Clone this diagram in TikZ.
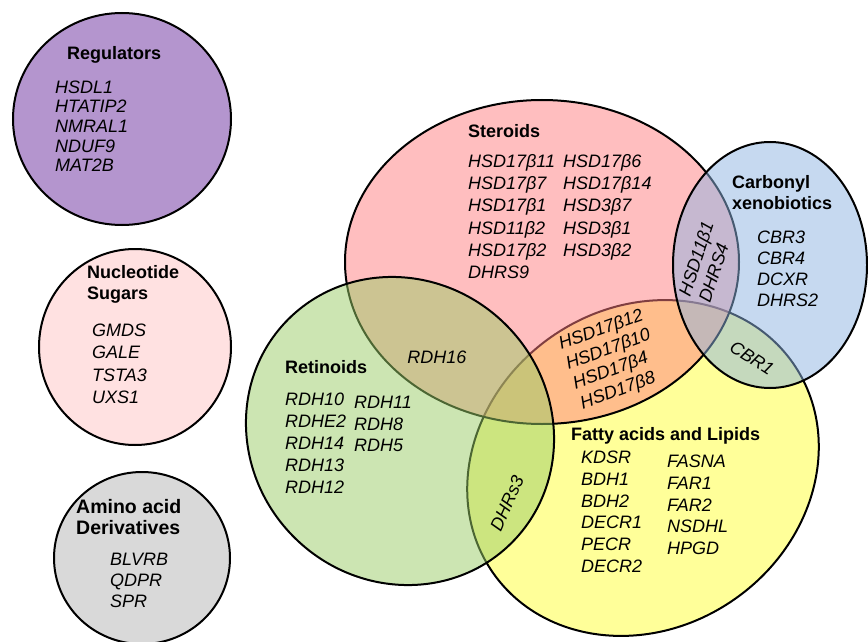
\documentclass[tikz,border=0pt]{standalone}
\usepackage{fontspec}
\setmainfont{Liberation Sans}
\usetikzlibrary{positioning}
\definecolor{regpurple}{RGB}{180,149,206}
\definecolor{nucpink}{RGB}{255,225,225}
\definecolor{aminogrey}{RGB}{217,217,217}
\definecolor{steroidred}{RGB}{255,125,128}
\definecolor{lipidyellow}{RGB}{255,255,0}
\definecolor{retinoidgreen}{RGB}{153,204,102}
\definecolor{carbonylblue}{RGB}{141,180,226}

\begin{document}
\begin{tikzpicture}[x=1pt,y=-1pt,
    setline/.style={draw=black,line width=2pt},
    ttl/.style={anchor=west,inner sep=0pt,text height=13pt,text depth=0pt,font=\fontsize{18}{20}\selectfont\bfseries},
    bigttl/.style={ttl,font=\fontsize{19.5}{21}\selectfont\bfseries},
    gene/.style={anchor=west,inner sep=0pt,text height=13pt,text depth=0pt,font=\fontsize{18}{20}\selectfont\itshape},
    tilted/.style={inner sep=0pt,align=left,font=\fontsize{18}{21}\selectfont\itshape}]
  \useasboundingbox (0,0) rectangle (868,642);
  % centres of the sets
  \coordinate (regc) at (122,119);
  \coordinate (nucc) at (135,347);
  \coordinate (aminoc) at (142,558);
  \coordinate (stc) at (542,262);
  \coordinate (cbc) at (770,265);
  \coordinate (lipc) at (643,468);
  \coordinate (retc) at (400,431);
  % single sets on the left
  \draw[setline,fill=regpurple] (regc) ellipse [x radius=109,y radius=106];
  \draw[setline,fill=nucpink] (nucc) ellipse [x radius=96,y radius=98];
  \draw[setline,fill=aminogrey] (aminoc) ellipse [x radius=88,y radius=86];
  % overlapping sets
  \draw[setline,fill=lipidyellow,fill opacity=0.4,rotate around={35:(lipc)}] (lipc) ellipse [x radius=183,y radius=160];
  \draw[setline,fill=steroidred,fill opacity=0.5] (stc) ellipse [x radius=197,y radius=162];
  \draw[setline,fill=carbonylblue,fill opacity=0.5] (cbc) ellipse [x radius=97,y radius=123];
  \draw[setline,fill=retinoidgreen,fill opacity=0.5,rotate around={-45:(retc)}] (retc) ellipse [x radius=158,y radius=150];

  % Regulators
  \node[ttl] (regttl) at (67,53) {Regulators};
  \foreach \g [count=\i from 0] in {HSDL1,HTATIP2,NMRAL1,NDUF9,MAT2B}
    \node[gene] (reg\i) at (55,87+19.5*\i) {\g};
  % Nucleotide sugars
  \node[ttl] (nucttl) at (87,272) {Nucleotide};
  \node[ttl] (nucttlb) at (87,293) {Sugars};
  \foreach \g [count=\i from 0] in {GMDS,GALE,TSTA3,UXS1}
    \node[gene] (nuc\i) at (92,330+22.3*\i) {\g};
  % Amino acid derivatives
  \node[bigttl] (aminottl) at (76,507) {Amino acid};
  \node[bigttl] (aminottlb) at (76,528) {Derivatives};
  \foreach \g [count=\i from 0] in {BLVRB,QDPR,SPR}
    \node[gene] (amino\i) at (110,559+21*\i) {\g};

  % Steroids
  \node[ttl] (stttl) at (468,131) {Steroids};
  \foreach \g [count=\i from 0] in {HSD17β11,HSD17β7,HSD17β1,HSD11β2,HSD17β2,DHRS9}
    \node[gene] (stA\i) at (468,161+22.2*\i) {\g};
  \foreach \g [count=\i from 0] in {HSD17β6,HSD17β14,HSD3β7,HSD3β1,HSD3β2}
    \node[gene] (stB\i) at (563,161+22.2*\i) {\g};
  % Carbonyl xenobiotics
  \node[ttl] (cbttl) at (732,182) {Carbonyl};
  \node[ttl] (cbttlb) at (732,203) {xenobiotics};
  \foreach \g [count=\i from 0] in {CBR3,CBR4,DCXR,DHRS2}
    \node[gene] (cb\i) at (757,237+21*\i) {\g};
  % Retinoids
  \node[ttl] (retttl) at (285,367) {Retinoids};
  \foreach \g [count=\i from 0] in {RDH10,RDHE2,RDH14,RDH13,RDH12}
    \node[gene] (retA\i) at (285,399+22*\i) {\g};
  \foreach \g [count=\i from 0] in {RDH11,RDH8,RDH5}
    \node[gene] (retB\i) at (354,402+21.5*\i) {\g};
  % Fatty acids and lipids
  \node[ttl] (lipttl) at (571,434) {Fatty acids and Lipids};
  \foreach \g [count=\i from 0] in {KDSR,BDH1,BDH2,DECR1,PECR,DECR2}
    \node[gene] (lipA\i) at (581,457+21.8*\i) {\g};
  \foreach \g [count=\i from 0] in {FASNA,FAR1,FAR2,NSDHL,HPGD}
    \node[gene] (lipB\i) at (667,461+21.8*\i) {\g};

  % shared members
  \node[tilted] (stret) at (437,357) {RDH16};
  \node[tilted,rotate=20] (stlip) at (612,360) {HSD17β12\\HSD17β10\\HSD17β4\\HSD17β8};
  \node[tilted,rotate=72] (stcb) at (706,262) {HSD11β1\\DHRS4};
  \node[tilted,rotate=-33] (cblip) at (752,358) {CBR1};
  \node[tilted,rotate=66] (retlip) at (507,503) {DHRs3};
\end{tikzpicture}
\end{document}
